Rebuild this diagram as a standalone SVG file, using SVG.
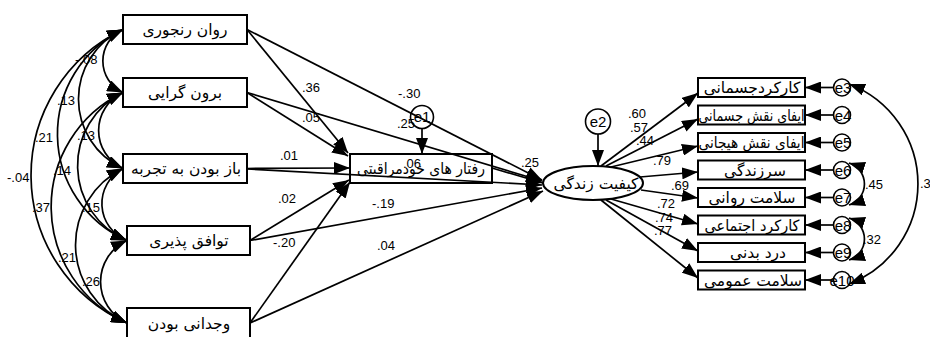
<svg xmlns="http://www.w3.org/2000/svg" width="930" height="337" viewBox="0 0 930 337">
  <style>
    .box { fill: #ffffff; stroke: #000000; stroke-width: 2; }
    .med { fill: none; stroke: #000000; stroke-width: 2; }
    .err { fill: #ffffff; stroke: #000000; stroke-width: 1.6; }
    .fa { font-family: "DejaVu Sans", "Noto Sans", sans-serif; font-size: 15.5px; fill: #000000; text-anchor: middle; }
    .et { font-family: "Liberation Sans", Arial, sans-serif; font-size: 15px; fill: #000000; text-anchor: middle; }
    .n { font-family: "Liberation Sans", Arial, sans-serif; font-size: 13px; fill: #000000; }
    .c { fill: none; stroke: #000000; stroke-width: 1.7; }
    .p { marker-end: url(#ah); }
    .cov { marker-start: url(#ah); marker-end: url(#ah); }
  </style>
  <defs>
    <marker id="ah" viewBox="0 0 16 12" refX="16" refY="6" markerWidth="16" markerHeight="12" markerUnits="userSpaceOnUse" orient="auto-start-reverse">
      <path d="M0,0 L16,6 L0,12 z" fill="#000000"/>
    </marker>
  </defs>

  <rect width="930" height="337" fill="#ffffff"/>

  <!-- personality traits -->
  <g id="neuroticism"><rect class="box" x="123" y="15" width="124" height="29"/><text class="fa" x="185" y="35">روان رنجوری</text></g>
  <g id="extraversion"><rect class="box" x="123" y="78" width="124" height="29"/><text class="fa" x="185" y="98">برون گرایی</text></g>
  <g id="openness"><rect class="box" x="123" y="154" width="124" height="29"/><text class="fa" x="186" y="174">باز بودن به تجربه</text></g>
  <g id="agreeableness"><rect class="box" x="127" y="226" width="123" height="29"/><text class="fa" x="189" y="246">توافق پذیری</text></g>
  <g id="conscientiousness"><rect class="box" x="127" y="308" width="123" height="30"/><text class="fa" x="189" y="329">وجدانی بودن</text></g>

  <!-- mediator -->
  <g id="selfcare"><rect class="med" x="350" y="154" width="142" height="29"/><text class="fa" x="421" y="174" textLength="128" lengthAdjust="spacingAndGlyphs">رفتار های خودمراقبتی</text></g>
  <g id="e1"><circle class="err" cx="422" cy="117" r="11.5"/><text class="et" x="422" y="122">e1</text></g>

  <!-- quality of life -->
  <g id="qol"><ellipse class="box" cx="593" cy="183" rx="50" ry="17"/><text class="fa" x="596" y="188.5">کیفیت زندگی</text></g>
  <g id="e2"><circle class="err" cx="598" cy="121.5" r="12.5"/><text class="et" x="598" y="127">e2</text></g>

  <!-- SF-36 subscales -->
  <g id="pf"><rect class="box" x="698" y="78" width="107" height="19"/><text class="fa" x="752" y="93">کارکردجسمانی</text></g>
  <g id="rp"><rect class="box" x="698" y="105.5" width="107" height="19"/><text class="fa" x="751.5" y="120.5" textLength="106" lengthAdjust="spacingAndGlyphs">ایفای نقش جسمانی</text></g>
  <g id="re"><rect class="box" x="698" y="133" width="107" height="19"/><text class="fa" x="751.5" y="148" textLength="106" lengthAdjust="spacingAndGlyphs">ایفای نقش هیجانی</text></g>
  <g id="vt"><rect class="box" x="698" y="160.5" width="107" height="19"/><text class="fa" x="755" y="175.5">سرزندگی</text></g>
  <g id="mh"><rect class="box" x="698" y="188" width="107" height="19"/><text class="fa" x="752" y="203">سلامت روانی</text></g>
  <g id="sf"><rect class="box" x="698" y="215.5" width="107" height="19"/><text class="fa" x="752" y="230.5" textLength="95" lengthAdjust="spacingAndGlyphs">کارکرد اجتماعی</text></g>
  <g id="bp"><rect class="box" x="698" y="243" width="107" height="19"/><text class="fa" x="758" y="258">درد بدنی</text></g>
  <g id="gh"><rect class="box" x="698" y="270.5" width="107" height="19"/><text class="fa" x="753" y="285.5">سلامت عمومی</text></g>

  <g id="e3"><circle class="err" cx="842" cy="87.5" r="8.5"/><text class="et" x="843" y="93">e3</text></g>
  <g id="e4"><circle class="err" cx="842" cy="115" r="8.5"/><text class="et" x="843" y="120.5">e4</text></g>
  <g id="e5"><circle class="err" cx="842" cy="142.5" r="8.5"/><text class="et" x="843" y="148">e5</text></g>
  <g id="e6"><circle class="err" cx="842" cy="170" r="8.5"/><text class="et" x="843" y="175.5">e6</text></g>
  <g id="e7"><circle class="err" cx="842" cy="197.5" r="8.5"/><text class="et" x="843" y="203">e7</text></g>
  <g id="e8"><circle class="err" cx="842" cy="225" r="8.5"/><text class="et" x="843" y="230.5">e8</text></g>
  <g id="e9"><circle class="err" cx="842" cy="252.5" r="8.5"/><text class="et" x="843" y="258">e9</text></g>
  <g id="e10"><circle class="err" cx="842" cy="280" r="8.5"/><text class="et" x="842" y="285.5">e10</text></g>

  <g id="connectors">
    <!-- covariances among traits -->
    <path class="c cov" d="M123,29.5 A34.7,34.7 0 0 0 123,92.5"/>
    <path class="c cov" d="M123,29.5 A76.5,76.5 0 0 0 123,168.5"/>
    <path class="c cov" d="M123,29.5 A116.2,116.2 0 0 0 127,240.5"/>
    <path class="c cov" d="M123,29.5 A161.6,161.6 0 0 0 127,323"/>
    <path class="c cov" d="M123,92.5 A41.8,41.8 0 0 0 123,168.5"/>
    <path class="c cov" d="M123,92.5 A81.5,81.5 0 0 0 127,240.5"/>
    <path class="c cov" d="M123,92.5 A126.9,126.9 0 0 0 127,323"/>
    <path class="c cov" d="M123,168.5 A39.7,39.7 0 0 0 127,240.5"/>
    <path class="c cov" d="M123,168.5 A85.1,85.1 0 0 0 127,323"/>
    <path class="c cov" d="M127,240.5 A45.4,45.4 0 0 0 127,323"/>

    <!-- traits to self-care -->
    <line class="c p" x1="247" y1="29.5" x2="348" y2="153"/>
    <line class="c p" x1="247" y1="92.5" x2="348" y2="156"/>
    <line class="c p" x1="247" y1="168.5" x2="350" y2="168"/>
    <line class="c p" x1="250" y1="240.5" x2="349" y2="180"/>
    <line class="c p" x1="250" y1="323" x2="350" y2="182"/>

    <!-- traits and self-care to quality of life -->
    <line class="c p" x1="247" y1="29.5" x2="542" y2="180"/>
    <line class="c p" x1="247" y1="92.5" x2="542" y2="181"/>
    <line class="c p" x1="247" y1="169" x2="542" y2="185"/>
    <line class="c p" x1="492" y1="168" x2="543" y2="183"/>
    <line class="c p" x1="250" y1="240.5" x2="542" y2="188"/>
    <line class="c p" x1="250" y1="323" x2="543" y2="191"/>

    <!-- residuals -->
    <line class="c p" x1="422" y1="128.5" x2="422" y2="154"/>
    <line class="c p" x1="598" y1="134" x2="598" y2="166"/>

    <!-- quality of life to subscales -->
    <line class="c p" x1="601" y1="166" x2="698" y2="93"/>
    <line class="c p" x1="606" y1="166" x2="698" y2="119"/>
    <line class="c p" x1="611" y1="167" x2="698" y2="146"/>
    <line class="c p" x1="640" y1="177" x2="698" y2="172"/>
    <line class="c p" x1="641" y1="190" x2="698" y2="198"/>
    <line class="c p" x1="611" y1="199" x2="698" y2="224"/>
    <line class="c p" x1="606" y1="200" x2="698" y2="251"/>
    <line class="c p" x1="601" y1="200" x2="698" y2="278"/>

    <!-- subscale residuals -->
    <line class="c p" x1="833.5" y1="87.5" x2="805" y2="87.5"/>
    <line class="c p" x1="833.5" y1="115" x2="805" y2="115"/>
    <line class="c p" x1="833.5" y1="142.5" x2="805" y2="142.5"/>
    <line class="c p" x1="833.5" y1="170" x2="805" y2="170"/>
    <line class="c p" x1="833.5" y1="197.5" x2="805" y2="197.5"/>
    <line class="c p" x1="833.5" y1="225" x2="805" y2="225"/>
    <line class="c p" x1="833.5" y1="252.5" x2="805" y2="252.5"/>
    <line class="c p" x1="833.5" y1="280" x2="805" y2="280"/>

    <!-- residual covariances -->
    <path class="c cov" d="M849,163 A22,22 0 0 1 849,205"/>
    <path class="c cov" d="M849,218 A22,22 0 0 1 849,260"/>
    <path class="c cov" d="M849,84 A107,107 0 0 1 849,284"/>
  </g>

  <!-- coefficients -->
  <g id="labels">
    <text class="n" x="75" y="64">-.08</text>
    <text class="n" x="57" y="105">.13</text>
    <text class="n" x="35" y="142">.21</text>
    <text class="n" x="77" y="140">.13</text>
    <text class="n" x="7" y="182">-.04</text>
    <text class="n" x="53" y="175">.14</text>
    <text class="n" x="32" y="212">.37</text>
    <text class="n" x="82" y="212">.15</text>
    <text class="n" x="58" y="262">.21</text>
    <text class="n" x="82" y="286">.26</text>

    <text class="n" x="302" y="92">.36</text>
    <text class="n" x="398" y="98">-.30</text>
    <text class="n" x="302" y="122">.05</text>
    <text class="n" x="397" y="128">.25</text>
    <text class="n" x="280" y="160">.01</text>
    <text class="n" x="403" y="168">.06</text>
    <text class="n" x="521" y="167">.25</text>
    <text class="n" x="278" y="203">.02</text>
    <text class="n" x="372" y="208">-.19</text>
    <text class="n" x="273" y="247">-.20</text>
    <text class="n" x="377" y="250">.04</text>

    <text class="n" x="628" y="118">.60</text>
    <text class="n" x="630" y="132">.57</text>
    <text class="n" x="636" y="145">.44</text>
    <text class="n" x="653" y="165">.79</text>
    <text class="n" x="671" y="190">.69</text>
    <text class="n" x="657" y="208">.72</text>
    <text class="n" x="655" y="222">.74</text>
    <text class="n" x="654" y="235">.77</text>

    <text class="n" x="865" y="189">.45</text>
    <text class="n" x="863" y="244">.32</text>
    <text class="n" x="920" y="188">.3</text>
  </g>
</svg>
